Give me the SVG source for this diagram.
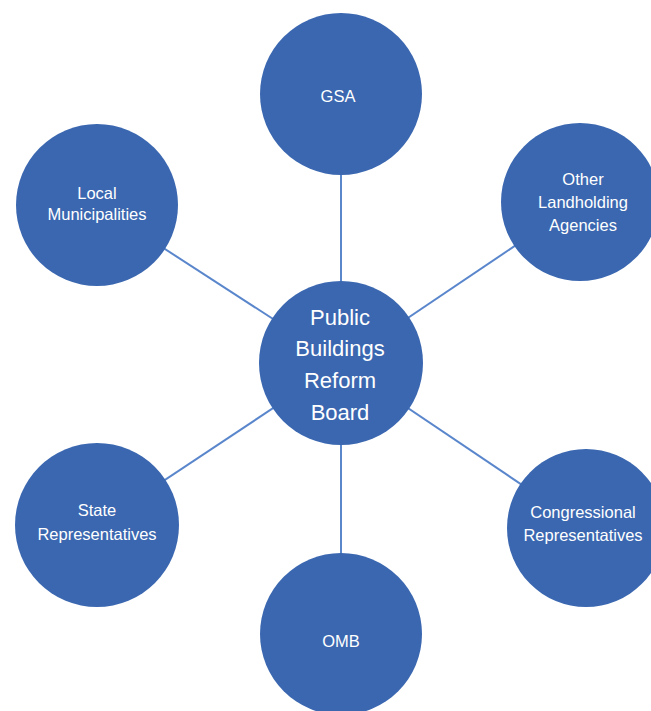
<svg xmlns="http://www.w3.org/2000/svg" width="651" height="711" viewBox="0 0 651 711">
<style>
.n{fill:#3a67b0;}
.t{fill:#ffffff;font-family:"Liberation Sans",Arial,sans-serif;font-size:16.5px;text-anchor:middle;}
.c{font-size:22px;}
.e line{stroke:#5a86cc;stroke-width:2;}
</style>
<rect width="651" height="711" fill="#ffffff"/>
<g id="connectors" class="e">
<line x1="341" y1="363" x2="341" y2="94"/>
<line x1="341" y1="363" x2="580" y2="202"/>
<line x1="341" y1="363" x2="97" y2="205"/>
<line x1="341" y1="363" x2="97" y2="525"/>
<line x1="341" y1="363" x2="586" y2="528"/>
<line x1="341" y1="363" x2="341" y2="634"/>
</g>
<g id="gsa"><circle class="n" cx="341" cy="94" r="81"/><text class="t" x="338" y="102">GSA</text></g>
<g id="other"><circle class="n" cx="580" cy="202" r="79"/><text class="t" x="583" y="185">Other</text><text class="t" x="583" y="208">Landholding</text><text class="t" x="583" y="231">Agencies</text></g>
<g id="local"><circle class="n" cx="97" cy="205" r="81"/><text class="t" x="97" y="199">Local</text><text class="t" x="97" y="220">Municipalities</text></g>
<g id="center"><circle class="n" cx="341" cy="363" r="82"/><text class="t c" x="340" y="325">Public</text><text class="t c" x="340" y="356">Buildings</text><text class="t c" x="340" y="388">Reform</text><text class="t c" x="340" y="420">Board</text></g>
<g id="state"><circle class="n" cx="97" cy="525" r="82"/><text class="t" x="97" y="516">State</text><text class="t" x="97" y="540">Representatives</text></g>
<g id="congress"><circle class="n" cx="586" cy="528" r="79"/><text class="t" x="583" y="518">Congressional</text><text class="t" x="583" y="541">Representatives</text></g>
<g id="omb"><circle class="n" cx="341" cy="634" r="81"/><text class="t" x="341" y="647">OMB</text></g>
</svg>
